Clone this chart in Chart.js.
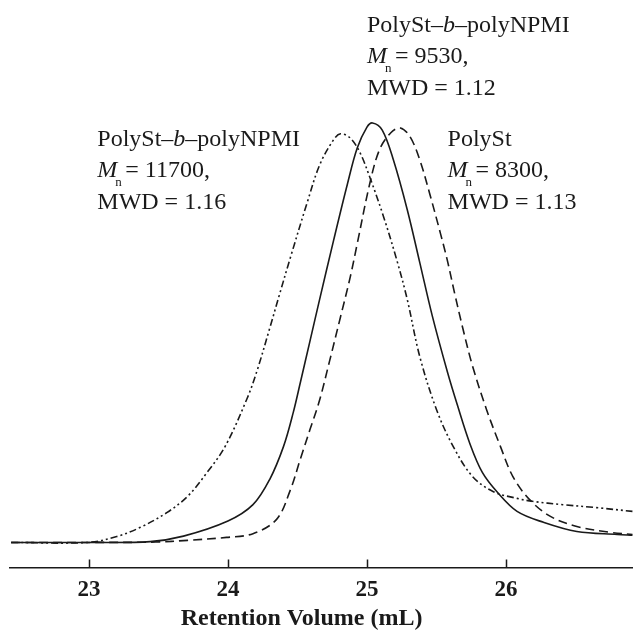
<!DOCTYPE html>
<html>
<head>
<meta charset="utf-8">
<script src="https://cdn.jsdelivr.net/npm/chart.js@4"></script>
<style>
  html, body { margin: 0; padding: 0; background: #fff; }
  canvas { display: block; }
</style>
</head>
<body>
<canvas id="gpc" width="633" height="630"></canvas>
<script>
const SERIF = '"Liberation Serif", "Times New Roman", serif';
const INK = "#1a1a1a";

// x axis ticks (retention volume, mL)
const xTicks = [23, 24, 25, 26];

// PolySt-b-polyNPMI, Mn 9530 (solid)
const blockAX = [22.44, 23.0, 23.44, 23.68, 24.0, 24.18, 24.3, 24.4, 24.47, 24.52, 24.59, 24.66, 24.76, 24.86, 24.93, 25.0, 25.04, 25.11, 25.19, 25.29, 25.38, 25.47, 25.58, 25.65, 25.74, 25.83, 25.94, 26.08, 26.27, 26.51, 26.8, 26.91];
const blockAY = [0, 0, 0.002, 0.015, 0.051, 0.09, 0.15, 0.229, 0.31, 0.38, 0.48, 0.58, 0.72, 0.855, 0.94, 0.99, 1.0, 0.983, 0.912, 0.793, 0.667, 0.54, 0.405, 0.328, 0.236, 0.167, 0.119, 0.074, 0.048, 0.026, 0.019, 0.017];

// PolySt, Mn 8300 (dashed)
const polyStX = [22.44, 23.0, 23.48, 23.71, 23.99, 24.18, 24.35, 24.45, 24.52, 24.59, 24.66, 24.73, 24.81, 24.88, 24.93, 25.02, 25.09, 25.17, 25.24, 25.31, 25.38, 25.45, 25.53, 25.58, 25.63, 25.69, 25.76, 25.86, 25.96, 26.05, 26.17, 26.32, 26.51, 26.75, 26.91];
const polyStY = [0, 0, 0.001, 0.005, 0.012, 0.021, 0.055, 0.126, 0.198, 0.269, 0.34, 0.431, 0.538, 0.633, 0.712, 0.855, 0.936, 0.976, 0.988, 0.967, 0.912, 0.833, 0.735, 0.67, 0.595, 0.51, 0.42, 0.317, 0.229, 0.157, 0.102, 0.062, 0.038, 0.024, 0.019];

// PolySt-b-polyNPMI, Mn 11700 (dash-dot-dot)
const blockBX = [22.44, 22.99, 23.2, 23.37, 23.56, 23.71, 23.85, 23.98, 24.14, 24.21, 24.3, 24.37, 24.45, 24.57, 24.66, 24.76, 24.81, 24.88, 24.95, 25.02, 25.12, 25.22, 25.29, 25.38, 25.5, 25.62, 25.76, 25.91, 26.08, 26.19, 26.41, 26.65, 26.91];
const blockBY = [0, 0, 0.014, 0.036, 0.071, 0.11, 0.167, 0.229, 0.345, 0.41, 0.51, 0.59, 0.68, 0.81, 0.9, 0.96, 0.974, 0.964, 0.929, 0.871, 0.776, 0.667, 0.579, 0.443, 0.317, 0.229, 0.157, 0.121, 0.105, 0.098, 0.09, 0.083, 0.074];

// annotation texts
const sampleNames = ["PolySt–b–polyNPMI", "PolySt", "PolySt–b–polyNPMI"];
const sampleMn = [9530, 8300, 11700];
const sampleMwd = ["1.12", "1.13", "1.16"];
// where each annotation starts (left edge, first baseline) in data units
const labelAnchors = [
  { x: 25.0, y: 1.217 },
  { x: 25.58, y: 0.945 },
  { x: 23.06, y: 0.945 },
];
const AXIS_TITLE = "Retention Volume (mL)";

const toPoints = (xs, ys) => xs.map((x, i) => ({ x, y: ys[i] }));

function drawSampleLabel(ctx, x, y, name, mn, mwd) {
  const lineGap = 31.5;
  ctx.save();
  ctx.fillStyle = INK;
  ctx.textAlign = "left";
  ctx.textBaseline = "alphabetic";
  const regular = `24px ${SERIF}`;
  const italic = `italic 24px ${SERIF}`;

  // name, block marker "b" in italics
  let cx = x;
  const parts = name.split("–b–");
  ctx.font = regular;
  if (parts.length === 2) {
    ctx.fillText(parts[0] + "–", cx, y);
    cx += ctx.measureText(parts[0] + "–").width;
    ctx.font = italic;
    ctx.fillText("b", cx, y);
    cx += ctx.measureText("b").width;
    ctx.font = regular;
    ctx.fillText("–" + parts[1], cx, y);
  } else {
    ctx.fillText(name, cx, y);
  }

  // Mn line
  const y2 = y + lineGap;
  ctx.font = italic;
  ctx.fillText("M", x, y2);
  const wM = ctx.measureText("M").width;
  ctx.font = `13px ${SERIF}`;
  ctx.fillText("n", x + wM - 2, y2 + 9);
  ctx.font = regular;
  ctx.fillText(`= ${mn},`, x + wM + 8, y2);

  // MWD line
  ctx.fillText(`MWD = ${mwd}`, x, y + 2 * lineGap);
  ctx.restore();
}

const overlay = {
  id: "overlay",
  afterDraw(chart) {
    const { ctx, chartArea, scales } = chart;
    const xs = scales.x;
    const ys = scales.y;

    // inward tick marks
    ctx.save();
    ctx.strokeStyle = INK;
    ctx.lineWidth = 1.5;
    ctx.beginPath();
    xs.ticks.forEach((t) => {
      const px = Math.round(xs.getPixelForValue(t.value)) + 0.5;
      ctx.moveTo(px, chartArea.bottom);
      ctx.lineTo(px, chartArea.bottom - 8);
    });
    ctx.stroke();

    // axis title
    ctx.fillStyle = INK;
    ctx.font = `bold 24px ${SERIF}`;
    ctx.textAlign = "center";
    ctx.textBaseline = "alphabetic";
    ctx.fillText(AXIS_TITLE, xs.getPixelForValue(24.53), 625);
    ctx.restore();

    labelAnchors.forEach((a, i) => {
      drawSampleLabel(
        ctx,
        xs.getPixelForValue(a.x),
        ys.getPixelForValue(a.y),
        sampleNames[i],
        sampleMn[i],
        sampleMwd[i],
      );
    });
  },
};

const lineStyle = {
  borderColor: INK,
  borderWidth: 1.6,
  pointRadius: 0,
  fill: false,
  tension: 0.35,
};

new Chart(document.getElementById("gpc"), {
  type: "line",
  data: {
    datasets: [
      { ...lineStyle, label: "PolySt-b-polyNPMI (Mn 9530)", data: toPoints(blockAX, blockAY) },
      { ...lineStyle, label: "PolySt (Mn 8300)", data: toPoints(polyStX, polyStY), borderDash: [9, 5] },
      { ...lineStyle, label: "PolySt-b-polyNPMI (Mn 11700)", data: toPoints(blockBX, blockBY), borderDash: [7, 3, 2, 3, 2, 3] },
    ],
  },
  options: {
    responsive: false,
    animation: false,
    layout: { padding: { left: 10, right: 0, top: 0, bottom: 17 } },
    plugins: { legend: { display: false }, tooltip: { enabled: false } },
    scales: {
      x: {
        type: "linear",
        min: 22.432,
        max: 26.914,
        afterBuildTicks: (scale) => {
          scale.ticks = xTicks.map((v) => ({ value: v }));
        },
        grid: { drawOnChartArea: false, drawTicks: false },
        border: { display: true, color: INK, width: 1.5 },
        ticks: {
          color: INK,
          padding: 9,
          maxRotation: 0,
          font: { family: SERIF, size: 23, weight: "bold" },
        },
      },
      y: { display: false, min: -0.0595, max: 1.293 },
    },
  },
  plugins: [overlay],
});
</script>
</body>
</html>
